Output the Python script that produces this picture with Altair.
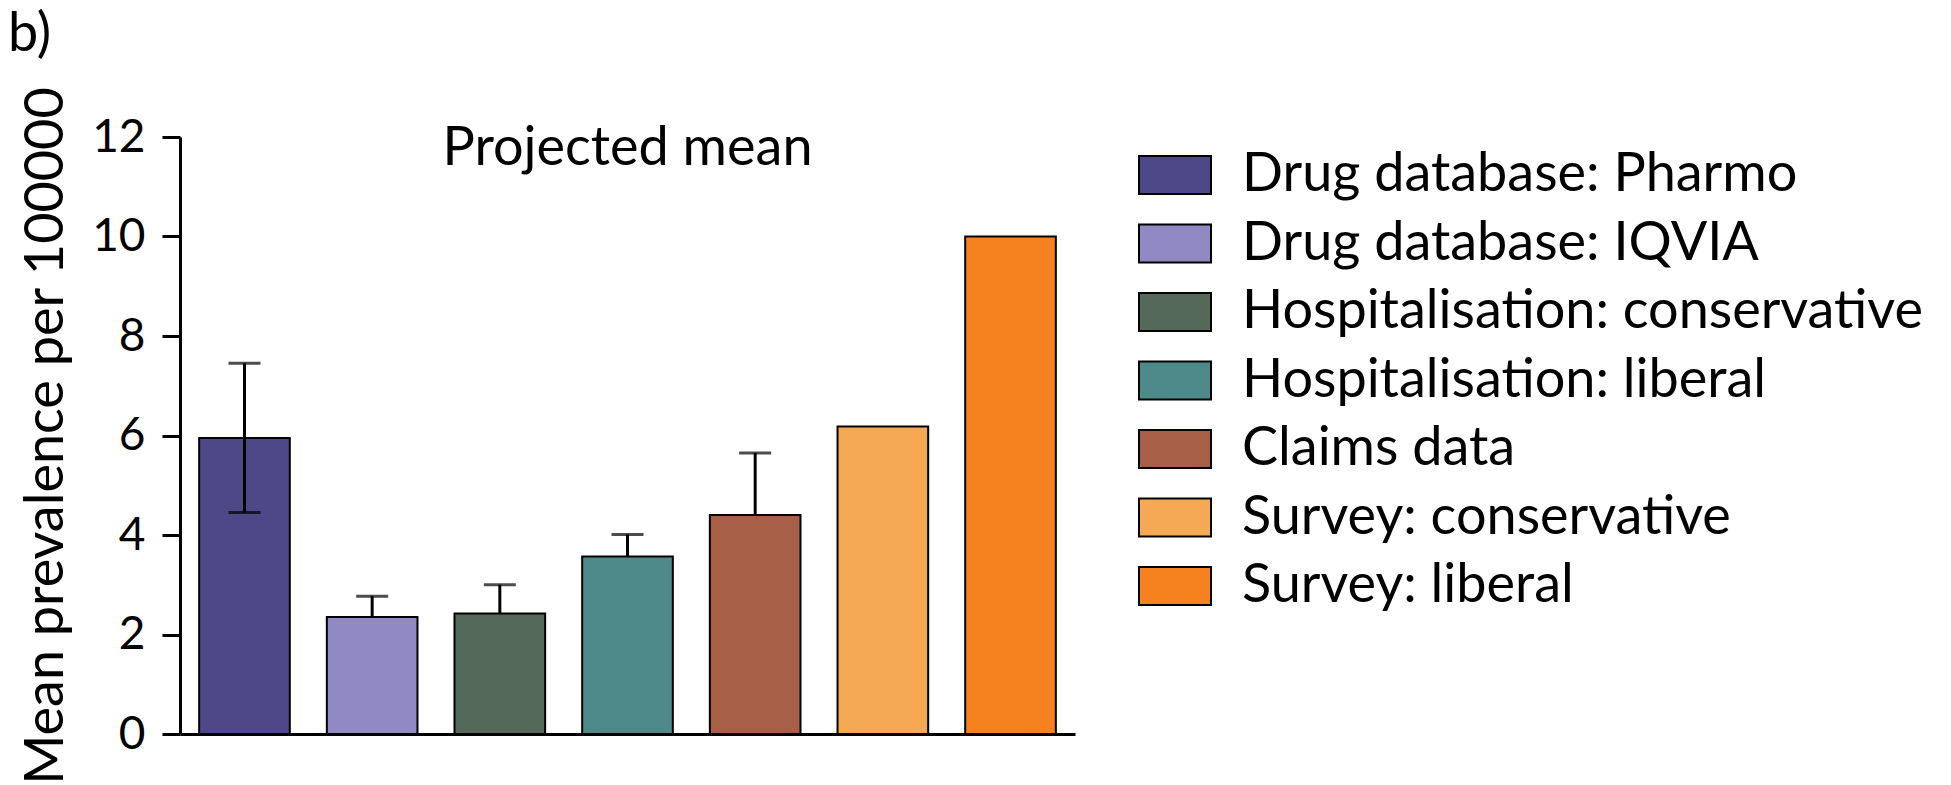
import altair as alt
import pandas as pd

categories = [
    "Drug database: Pharmo",
    "Drug database: IQVIA",
    "Hospitalisation: conservative",
    "Hospitalisation: liberal",
    "Claims data",
    "Survey: conservative",
    "Survey: liberal",
]
mean_values = [5.95, 2.35, 2.42, 3.57, 4.40, 6.18, 10.0]
err_upper = [7.45, 2.77, 3.00, 4.01, 5.65, None, None]
err_lower = [4.45, None, None, None, None, None, None]
colors = ["#4e4889", "#9089c4", "#55695a", "#4e8a8a", "#a85f48", "#f6a955", "#f5821f"]
y_ticks = [0, 2, 4, 6, 8, 10, 12]

FONT = "Lato"
FS = 54

df = pd.DataFrame({
    "cat": categories,
    "mean": mean_values,
    "hi": err_upper,
    "lo": [l if l is not None else m for l, m in zip(err_lower, mean_values)],
    "lo_cap": err_lower,
})

W, H = 895, 597

x_enc = alt.X("cat:N", sort=categories,
              scale=alt.Scale(paddingInner=0.29, paddingOuter=0.15),
              axis=alt.Axis(labels=False, ticks=False, title=None, domainWidth=3,
                            domainColor="black"))
y_scale = alt.Scale(domain=[0, 12], nice=False)

base = alt.Chart(df)

bars = base.mark_bar(stroke="black", strokeWidth=2, opacity=1).encode(
    x=x_enc,
    y=alt.Y("mean:Q", scale=y_scale,
            axis=alt.Axis(values=y_ticks, tickSize=18, tickWidth=3, domainWidth=3,
                          tickColor="black", domainColor="black", labelColor="black",
                          labelFontSize=46, labelFont=FONT, labelPadding=17,
                          title="Mean prevalence per 100000", titleFontSize=54,
                          titleFont=FONT, titleFontWeight="normal", titleColor="black",
                          titlePadding=18, grid=False)),
    color=alt.Color("cat:N", sort=categories,
                    scale=alt.Scale(domain=categories, range=colors),
                    legend=alt.Legend(orient="none", legendX=958, legendY=1,
                                      title=None, padding=0,
                                      symbolType="M-1,-0.53L1,-0.53L1,0.53L-1,0.53Z",
                                      symbolSize=5184, symbolStrokeColor="black",
                                      symbolStrokeWidth=2, symbolOpacity=1,
                                      labelFontSize=FS, labelFont=FONT, labelColor="black",
                                      labelOffset=30, rowPadding=4.5, labelLimit=1000)),
)

err_rule = base.transform_filter("datum.hi != null").mark_rule(
    color="black", strokeWidth=3).encode(
    x=alt.X("cat:N", sort=categories), y=alt.Y("lo:Q", scale=y_scale), y2="hi:Q")

cap_hi = base.transform_filter("datum.hi != null").mark_tick(
    color="black", thickness=3, size=32).encode(
    x=alt.X("cat:N", sort=categories), y=alt.Y("hi:Q", scale=y_scale))

cap_lo = base.transform_filter("datum.lo_cap != null").mark_tick(
    color="black", thickness=3, size=32).encode(
    x=alt.X("cat:N", sort=categories), y=alt.Y("lo_cap:Q", scale=y_scale))

title_txt = alt.Chart(pd.DataFrame({"t": ["Projected mean"]})).mark_text(
    font=FONT, fontSize=FS, color="black", align="center", baseline="alphabetic").encode(
    x=alt.value(W / 2), y=alt.value(28), text="t:N")

panel_txt = alt.Chart(pd.DataFrame({"t": ["b)"]})).mark_text(
    font=FONT, fontSize=FS, color="black", align="left", baseline="alphabetic").encode(
    x=alt.value(-172), y=alt.value(-86), text="t:N")

chart = alt.layer(bars, err_rule, cap_hi, cap_lo, title_txt, panel_txt).properties(
    width=W, height=H, padding=0
).configure_view(strokeWidth=0, stroke="transparent")

chart.save("out.html", embed_options={"renderer": "svg", "actions": False})
